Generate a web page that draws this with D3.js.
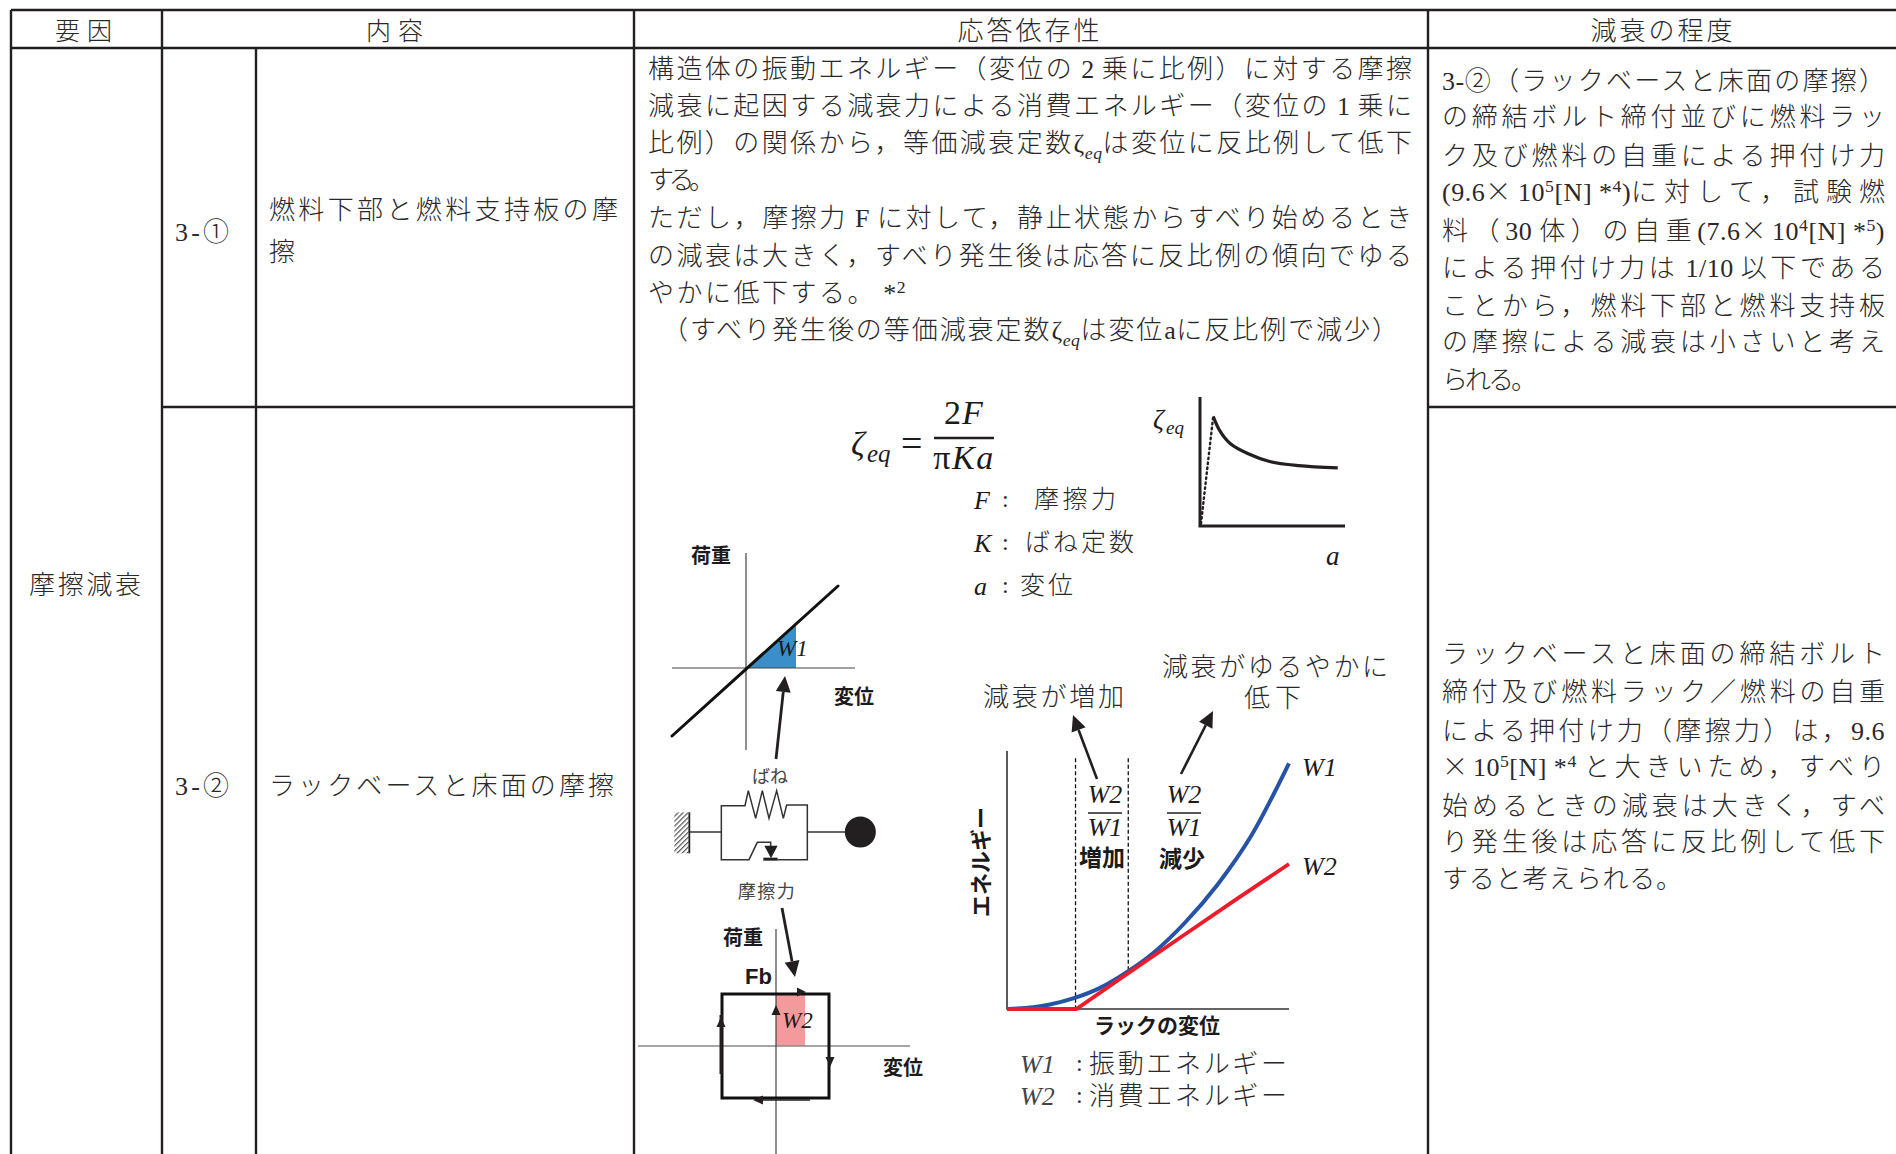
<!DOCTYPE html>
<html>
<head>
<meta charset="utf-8">
<script src="https://cdn.jsdelivr.net/npm/d3@7"></script>
<style>
    html, body { margin: 0; background: #fff; overflow: hidden; }
    text { font-family: "Liberation Serif", "Noto Sans CJK JP", serif; fill: #2b2829; }
    .jp { font-family: "Noto Sans CJK JP", sans-serif; font-weight: 300; }
    .latin { font-family: "Liberation Serif", serif; font-weight: 400; }
    .label { font-family: "Noto Sans CJK JP", sans-serif; font-weight: 700; fill: #1c1a1b; }
    .thin { font-family: "Noto Sans CJK JP", sans-serif; font-weight: 400; fill: #444; }
    .math { font-family: "Liberation Serif", serif; font-style: italic; fill: #1c1a1b; }
</style>
</head>
<body>
<svg id="chart" width="1896" height="1154"></svg>
<script>
// table text
const headers = ["要因", "内容", "応答依存性", "減衰の程度"];
const factorName = "摩擦減衰";
const rowCodes = ["3-①", "3-②"];
const rowTitles = [["燃料下部と燃料支持板の摩", "擦"], ["ラックベースと床面の摩擦"]];
const responseLines = [
    "構造体の振動エネルギー（変位の 2 乗に比例）に対する摩擦",
    "減衰に起因する減衰力による消費エネルギー（変位の 1 乗に",
    "比例）の関係から，等価減衰定数ζ_{eq}は変位に反比例して低下",
    "する。",
    "ただし，摩擦力 F に対して，静止状態からすべり始めるとき",
    "の減衰は大きく，すべり発生後は応答に反比例の傾向でゆる",
    "やかに低下する。 *^{2}",
    "（すべり発生後の等価減衰定数ζ_{eq}は変位aに反比例で減少）"
];
const degreeLines1 = [
    "3-②（ラックベースと床面の摩擦）",
    "の締結ボルト締付並びに燃料ラッ",
    "ク及び燃料の自重による押付け力",
    "(9.6×10^{5}[N] *^{4})に対して，試験燃",
    "料（30 体）の自重(7.6×10^{4}[N] *^{5})",
    "による押付け力は 1/10 以下である",
    "ことから，燃料下部と燃料支持板",
    "の摩擦による減衰は小さいと考え",
    "られる。"
];
const degreeLines2 = [
    "ラックベースと床面の締結ボルト",
    "締付及び燃料ラック／燃料の自重",
    "による押付け力（摩擦力）は，9.6",
    "×10^{5}[N] *^{4} と大きいため，すべり",
    "始めるときの減衰は大きく，すべ",
    "り発生後は応答に反比例して低下",
    "すると考えられる。"
];

// energy curves (percent of axis)
const w1Disp = [0, 9.3, 15.2, 24, 33, 43, 51, 63, 74.7, 86.5, 100];
const w1Energy = [0, 0.7, 1.8, 4.5, 8.6, 15.4, 22, 35, 50.7, 70.3, 100];
const w2Disp = [0, 24.6, 43, 62, 81, 100];
const w2Energy = [0, 0, 14.6, 29.5, 44.4, 59];
const regionEdges = [24.3, 43];

// damping curve
const zetaDisp = [9.1, 13.6, 21, 33.3, 48, 68, 95];
const zetaValue = [85, 74, 63.8, 56, 50, 46.8, 45];
const zetaStatic = [[0.7, 1.8], [9.1, 85]];

// load-displacement loops
const springLoad = [[-74, -68], [92, 82]];
const springArea = [[0, 0], [50, 43], [50, 0]];
const frictionLoop = [[-54, 52], [53, 52], [53, -52], [-54, -52]];
const frictionArea = [[0, 0], [0, 52], [29, 52], [29, 0]];

// spring and slider schematic, drawing units
const frameLeft = [[244, 906], [148, 906]];
const frameRight = [[502, 906], [615, 906]];
const frameTop = [[244, 906], [244, 827], [315, 827], [325, 782], [347, 865], [367, 782], [387, 865], [410, 782], [430, 865], [440, 825], [502, 825], [502, 989], [413, 989]];
const frameBottom = [[244, 906], [244, 989], [327, 989], [352, 937], [392, 937], [392, 950]];

const svg = d3.select("#chart");
const ink = "#231f20";

const defs = svg.append("defs");
const hatch = defs.append("pattern").attr("id", "hatch").attr("width", 3.5).attr("height", 3.5)
    .attr("patternUnits", "userSpaceOnUse").attr("patternTransform", "rotate(45)");
hatch.append("rect").attr("width", 3.5).attr("height", 3.5).attr("fill", "#fff");
hatch.append("line").attr("x1", 0).attr("y1", 0).attr("x2", 0).attr("y2", 3.5).attr("stroke", "#555").attr("stroke-width", 2.4);

// table grid
const colX = [11, 162, 256, 634, 1428];
const rowY = [10, 48, 407];
const pageBottom = 1154;
const pageRight = 1896;
const gridLines = [
    { x1: colX[0], y1: rowY[0], x2: pageRight, y2: rowY[0] },
    { x1: colX[0], y1: rowY[1], x2: pageRight, y2: rowY[1] },
    { x1: colX[1], y1: rowY[2], x2: colX[3], y2: rowY[2] },
    { x1: colX[4], y1: rowY[2], x2: pageRight, y2: rowY[2] },
    { x1: colX[0], y1: rowY[0], x2: colX[0], y2: pageBottom },
    { x1: colX[1], y1: rowY[0], x2: colX[1], y2: pageBottom },
    { x1: colX[2], y1: rowY[1], x2: colX[2], y2: pageBottom },
    { x1: colX[3], y1: rowY[0], x2: colX[3], y2: pageBottom },
    { x1: colX[4], y1: rowY[0], x2: colX[4], y2: pageBottom }
];
svg.append("g").selectAll("line").data(gridLines).enter().append("line")
    .attr("x1", d => d.x1).attr("y1", d => d.y1).attr("x2", d => d.x2).attr("y2", d => d.y2)
    .attr("stroke", ink).attr("stroke-width", 2.4);

// one line of text with ^{} and _{} runs, spaced out to fill x0..x1
function richLine(str, x0, y, x1, size) {
    const t = svg.append("text").attr("x", x0).attr("y", y).style("font-size", size + "px");
    const latinGap = 0.5;
    let shift = 0;
    let jpCount = 0;
    let latinCount = 0;
    let endsLatin = false;
    const jpRuns = [];
    const latinRuns = [];
    str.split(/(\^\{[^}]*\}|_\{[^}]*\})/).filter(s => s).forEach(part => {
        const m = part.match(/^([\^_])\{(.*)\}$/);
        if (m) {
            const want = m[1] === "^" ? -size * 0.36 : size * 0.25;
            const ts = t.append("tspan").attr("class", "latin").attr("dy", want - shift)
                .style("font-size", size * 0.68 + "px").text(m[2]);
            if (m[1] === "_") ts.style("font-style", "italic");
            shift = want;
            latinRuns.push(ts);
            latinCount += m[2].length;
            endsLatin = true;
            return;
        }
        part.split(/([\x21-\x7eζ ]+)/).filter(s => s).forEach(run => {
            const isLatin = /^[\x21-\x7eζ ]+$/.test(run);
            const ts = t.append("tspan").attr("class", isLatin ? "latin" : "jp").attr("dy", -shift).text(run);
            shift = 0;
            endsLatin = isLatin;
            if (isLatin) {
                latinRuns.push(ts);
                latinCount += run.length;
            } else {
                jpRuns.push(ts);
                jpCount += run.length;
            }
        });
    });
    if (x1 !== undefined) {
        const natural = t.node().getComputedTextLength();
        if (jpCount < 2) {
            t.style("letter-spacing", (x1 - x0 - natural) / (jpCount + latinCount - 1) + "px");
        } else {
            const gap = (x1 - x0 - natural - latinGap * latinCount) / (endsLatin ? jpCount : jpCount - 1);
            jpRuns.forEach(r => r.style("letter-spacing", gap + "px"));
            latinRuns.forEach(r => r.style("letter-spacing", latinGap + "px"));
        }
    }
    return t;
}

function centered(str, cx, y, size, cls, spacing) {
    return svg.append("text").attr("x", cx).attr("y", y).attr("text-anchor", "middle")
        .attr("class", cls).style("font-size", size + "px")
        .style("letter-spacing", (spacing || 0) + "px").text(str);
}

// header row
const headerCx = [87, 398, 1030, 1663];
const headerSpacing = [7, 7, 3, 3];
const headerSize = [25, 25, 26, 26];
headers.forEach((h, i) => centered(h, headerCx[i], 40, headerSize[i], "jp", headerSpacing[i]));

// left columns
richLine(factorName, 29, 594, 141, 26);
const codeY = [241, 795];
rowCodes.forEach((c, i) => richLine(c, 175, codeY[i], 229, 26));
richLine(rowTitles[0][0], 269, 219, 618, 26);
richLine(rowTitles[0][1], 269, 261, undefined, 26);
richLine(rowTitles[1][0], 269, 795, 614, 26);

// response column
const responseY = [78, 115, 152, 189, 227, 265, 302, 339];
const responseX0 = [648, 648, 648, 648, 648, 648, 648, 662];
const responseX1 = [1412, 1412, 1412, 715, 1412, 1412, 906, 1398];
responseLines.forEach((s, i) => richLine(s, responseX0[i], responseY[i], responseX1[i], 26));

// right column
const degree1Y = [90, 126, 165, 201, 240, 277, 315, 351, 389];
const degree1X1 = [1885, 1885, 1885, 1885, 1885, 1885, 1885, 1885, 1537];
degreeLines1.forEach((s, i) => richLine(s, 1442, degree1Y[i], degree1X1[i], 26));
const degree2Y = [663, 701, 740, 776, 815, 851, 888];
const degree2X1 = [1885, 1885, 1885, 1885, 1885, 1885, 1682];
degreeLines2.forEach((s, i) => richLine(s, 1442, degree2Y[i], degree2X1[i], 26));

// arrow with a filled head, tip at x2,y2
function arrow(x1, y1, x2, y2, width, headLen, headWidth) {
    const a = Math.atan2(y2 - y1, x2 - x1);
    const bx = x2 - headLen * Math.cos(a), by = y2 - headLen * Math.sin(a);
    svg.append("line").attr("x1", x1).attr("y1", y1).attr("x2", bx).attr("y2", by)
        .attr("stroke", ink).attr("stroke-width", width);
    tri(x2, y2, a, headLen, headWidth);
}

function tri(x, y, a, len, w) {
    const bx = x - len * Math.cos(a), by = y - len * Math.sin(a);
    const nx = Math.sin(a) * w / 2, ny = -Math.cos(a) * w / 2;
    svg.append("path").attr("d", `M${x},${y}L${bx + nx},${by + ny}L${bx - nx},${by - ny}Z`).attr("fill", ink);
}

function pairLine(xs, ys, curve) {
    return d3.line().x(d => xs(d[0])).y(d => ys(d[1])).curve(curve || d3.curveLinear);
}

// damping formula
function formula() {
    svg.append("text").attr("class", "math").attr("x", 851).attr("y", 455).style("font-size", "34px").text("ζ");
    svg.append("text").attr("class", "math").attr("x", 867).attr("y", 462).style("font-size", "25px").text("eq");
    svg.append("text").attr("x", 901).attr("y", 456).style("font-size", "38px").style("fill", "#1c1a1b").text("=");
    svg.append("line").attr("x1", 934).attr("x2", 994).attr("y1", 438).attr("y2", 438).attr("stroke", ink).attr("stroke-width", 2.4);
    const num = centered("", 964, 424, 34, "math", 1);
    num.append("tspan").style("font-style", "normal").text("2");
    num.append("tspan").text("F");
    const den = centered("", 964, 469, 34, "math", 1.5);
    den.append("tspan").style("font-style", "normal").text("π");
    den.append("tspan").text("Ka");

    const symbols = ["F", "K", "a"];
    const meanings = ["摩擦力", "ばね定数", "変位"];
    const symbolY = [509, 552, 595];
    const meaningX = [[1034, 1116], [1025, 1134], [1020, 1073]];
    symbols.forEach((s, i) => {
        svg.append("text").attr("class", "math").attr("x", 974).attr("y", symbolY[i]).style("font-size", "26px").text(s);
        svg.append("text").attr("x", 1002).attr("y", symbolY[i] - 2).style("font-size", "24px").text(":");
        richLine(meanings[i], meaningX[i][0], symbolY[i] - 1, meaningX[i][1], 25);
    });
}
formula();

// damping vs displacement
const zetaX = d3.scaleLinear().domain([0, 100]).range([1200, 1345]);
const zetaY = d3.scaleLinear().domain([0, 100]).range([526, 397]);
svg.append("path").attr("fill", "none").attr("stroke", ink).attr("stroke-width", 3)
    .attr("d", pairLine(zetaX, zetaY)([[0, 100], [0, 0], [100, 0]]));
svg.append("path").attr("fill", "none").attr("stroke", ink).attr("stroke-width", 2.4)
    .attr("stroke-dasharray", "1.5 3.5").attr("stroke-linecap", "round")
    .attr("d", pairLine(zetaX, zetaY)(zetaStatic));
svg.append("path").attr("fill", "none").attr("stroke", ink).attr("stroke-width", 3.2)
    .attr("d", pairLine(zetaX, zetaY, d3.curveCatmullRom.alpha(0.5))(zetaDisp.map((d, i) => [d, zetaValue[i]])));
svg.append("text").attr("class", "math").attr("x", 1153).attr("y", 428).style("font-size", "27px").text("ζ");
svg.append("text").attr("class", "math").attr("x", 1166).attr("y", 434).style("font-size", "19px").text("eq");
svg.append("text").attr("class", "math").attr("x", 1326).attr("y", 565).style("font-size", "27px").text("a");

// linear spring load-displacement
const springX = d3.scaleLinear().domain([-74, 109]).range([672, 855]);
const springY = d3.scaleLinear().domain([-82, 115]).range([750, 553]);
const springPath = pairLine(springX, springY);
svg.append("path").attr("fill", "#3a8fcb").attr("d", springPath(springArea) + "Z");
svg.append("line").attr("x1", springX.range()[0]).attr("x2", springX.range()[1]).attr("y1", springY(0)).attr("y2", springY(0)).attr("stroke", "#444").attr("stroke-width", 1.2);
svg.append("line").attr("x1", springX(0)).attr("x2", springX(0)).attr("y1", springY.range()[0]).attr("y2", springY.range()[1]).attr("stroke", "#444").attr("stroke-width", 1.2);
svg.append("path").attr("fill", "none").attr("stroke", "#111").attr("stroke-width", 3).attr("stroke-linecap", "round").attr("d", springPath(springLoad));
svg.append("text").attr("class", "math").attr("x", 777).attr("y", 656).style("font-size", "23px").text("W1");
centered("荷重", 711, 563, 20, "label");
centered("変位", 854, 704, 20, "label");
arrow(776, 759, 785, 676, 2.8, 16, 15);

// schematic
const partX = d3.scaleLinear().domain([0, 3]).range([640, 641]);
const partY = d3.scaleLinear().domain([0, 3]).range([530, 531]);
const partPath = pairLine(partX, partY);
[frameLeft, frameRight, frameTop, frameBottom].forEach(d => {
    svg.append("path").attr("fill", "none").attr("stroke", "#333").attr("stroke-width", 1.5).attr("d", partPath(d));
});
svg.append("rect").attr("x", partX(103)).attr("y", partY(847)).attr("width", partX(146) - partX(103)).attr("height", partY(970) - partY(847)).attr("fill", "url(#hatch)");
svg.append("line").attr("x1", partX(148)).attr("x2", partX(148)).attr("y1", partY(847)).attr("y2", partY(970)).attr("stroke", ink).attr("stroke-width", 1.8);
svg.append("path").attr("fill", ink).attr("d", partPath([[373, 947], [413, 947], [393, 985]]) + "Z");
svg.append("path").attr("fill", ink).attr("d", partPath([[370, 983], [413, 983], [413, 992], [370, 992]]) + "Z");
svg.append("circle").attr("cx", partX(661)).attr("cy", partY(906)).attr("r", 15.5).attr("fill", ink);
centered("ばね", 770, 783, 18, "thin");
centered("摩擦力", 767, 898, 18, "thin", 1.5);

// friction load-displacement
const loopX = d3.scaleLinear().domain([-138, 134]).range([638, 910]);
const loopY = d3.scaleLinear().domain([-108, 117]).range([1154, 929]);
const loopPath = pairLine(loopX, loopY);
svg.append("path").attr("fill", "#f59a9c").attr("d", loopPath(frictionArea) + "Z");
svg.append("line").attr("x1", 638).attr("x2", 910).attr("y1", loopY(0)).attr("y2", loopY(0)).attr("stroke", "#888").attr("stroke-width", 1.4);
svg.append("line").attr("x1", loopX(0)).attr("x2", loopX(0)).attr("y1", 929).attr("y2", 1154).attr("stroke", "#444").attr("stroke-width", 1.2);
svg.append("path").attr("fill", "none").attr("stroke", "#111").attr("stroke-width", 3).attr("d", loopPath(frictionLoop) + "Z");
svg.append("text").attr("class", "math").attr("x", 782).attr("y", 1028).style("font-size", "23px").text("W2");
centered("荷重", 743, 945, 20, "label");
centered("変位", 903, 1075, 20, "label");
svg.append("text").attr("x", 745).attr("y", 984).attr("class", "label").style("font-family", "'Liberation Sans', sans-serif").style("font-size", "22px").text("Fb");
arrow(782, 908, 795, 977, 2.8, 16, 15);
tri(806, 992, 0, 9, 9);
tri(776, 1005, -Math.PI / 2, 10, 9);
tri(721, 1017, -Math.PI / 2, 10, 9);
tri(830, 1067, Math.PI / 2, 10, 9);
tri(753, 1100, Math.PI, 10, 9);
svg.append("line").attr("x1", 757).attr("x2", 810).attr("y1", 1100).attr("y2", 1100).attr("stroke", ink).attr("stroke-width", 1.5);
svg.append("line").attr("x1", 721).attr("x2", 721).attr("y1", 1015).attr("y2", 1074).attr("stroke", ink).attr("stroke-width", 3);

// energy vs displacement
const energyX = d3.scaleLinear().domain([0, 100]).range([1007, 1289]);
const energyY = d3.scaleLinear().domain([0, 105]).range([1009, 751]);
const energyPath = pairLine(energyX, energyY);
svg.append("path").attr("fill", "none").attr("stroke", "#333").attr("stroke-width", 1.6)
    .attr("d", energyPath([[0, 105], [0, 0], [100, 0]]));
const edgeBottoms = [0, 15.4];
regionEdges.forEach((e, i) => {
    svg.append("line").attr("x1", energyX(e)).attr("x2", energyX(e))
        .attr("y1", energyY(102)).attr("y2", energyY(edgeBottoms[i]))
        .attr("stroke", "#111").attr("stroke-width", 1.3).attr("stroke-dasharray", "4 2.5");
});
svg.append("path").attr("fill", "none").attr("stroke", "#2653a6").attr("stroke-width", 4)
    .attr("d", energyPath.curve(d3.curveMonotoneX)(w1Disp.map((d, i) => [d, w1Energy[i]])));
svg.append("path").attr("fill", "none").attr("stroke", "#ed1c2a").attr("stroke-width", 3.8)
    .attr("d", energyPath.curve(d3.curveLinear)(w2Disp.map((d, i) => [d, w2Energy[i]])));

const mathNormal = (s, x, y, size) => svg.append("text").attr("class", "math").attr("x", x).attr("y", y).style("font-size", size + "px").text(s);
mathNormal("W1", 1302, 776, 26);
mathNormal("W2", 1302, 875, 26);
[1105, 1184].forEach(cx => {
    centered("W2", cx, 803, 26, "math");
    svg.append("line").attr("x1", cx - 17).attr("x2", cx + 17).attr("y1", 813).attr("y2", 813).attr("stroke", ink).attr("stroke-width", 1.6);
    centered("W1", cx, 836, 26, "math");
});
centered("増加", 1102, 866, 23, "label");
centered("減少", 1182, 867, 23, "label");
centered("ラックの変位", 1157, 1033, 21, "label");
svg.append("text").attr("transform", "translate(989,862) rotate(-90)").attr("text-anchor", "middle")
    .attr("class", "label").style("font-size", "22px").text("エネルギー");
richLine("減衰が増加", 983, 706, 1124, 26);
richLine("減衰がゆるやかに", 1162, 676, 1388, 26);
centered("低下", 1275, 707, 26, "jp", 5);
arrow(1097, 779, 1073, 715, 2.6, 16, 15);
arrow(1181, 774, 1213, 711, 2.6, 16, 15);

// legend
const legendNames = ["W1", "W2"];
const legendTexts = ["振動エネルギー", "消費エネルギー"];
const legendY = [1073, 1105];
legendNames.forEach((n, i) => {
    svg.append("text").attr("class", "math").attr("x", 1020).attr("y", legendY[i]).style("font-size", "26px").style("fill", "#444").text(n);
    svg.append("text").attr("x", 1076).attr("y", legendY[i] - 2).style("font-size", "24px").text(":");
    richLine(legendTexts[i], 1089, legendY[i], 1287, 26);
});
</script>
</body>
</html>
